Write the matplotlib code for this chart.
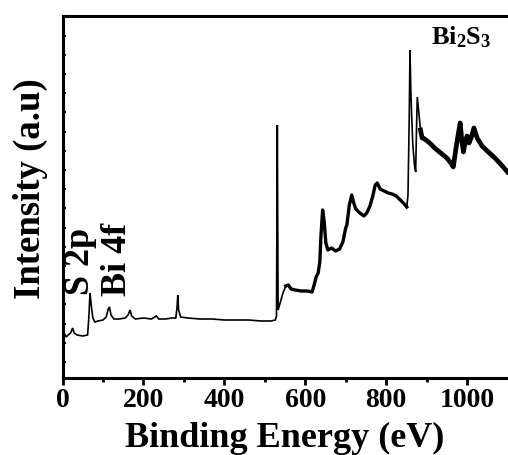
import matplotlib
matplotlib.use("Agg")
import matplotlib.pyplot as plt
import numpy as np

# Binding energy (eV) and intensity (a.u.)
energy = [0, 4, 9, 14, 20, 25, 29, 36, 50, 62, 65, 68, 71, 75, 80, 88, 100, 108, 113, 116,
          120, 127, 140, 155, 162, 167, 171, 180, 200, 220, 232, 238, 255, 270, 280, 283,
          285, 287, 292, 310, 340, 370, 400, 430, 460, 490, 515, 526, 529, 531, 533, 538,
          545, 552, 558, 565, 575, 590, 605, 617, 622, 627, 632, 636, 639, 643, 647, 651,
          656, 665, 675, 685, 693, 700, 703, 709, 715, 720, 725, 735, 745, 752, 760, 767,
          773, 778, 785, 795, 805, 815, 825, 835, 845, 851, 854, 857, 859, 861, 863, 866,
          870, 873, 875, 877, 879, 882, 885, 889, 895, 905, 920, 935, 950, 960, 966, 972,
          978, 983, 987, 991, 996, 1000, 1005, 1010, 1017, 1025, 1037, 1050, 1069, 1085, 1100]
intensity = [53, 45, 41, 43, 45, 50, 45, 43, 42, 43, 60, 85, 73, 60, 56, 57, 58, 61, 69, 71,
             63, 59, 59, 60, 63, 68, 62, 59, 60, 59, 62, 59, 59, 60, 60, 70,
             83, 68, 61, 60, 59, 59, 58, 58, 58, 57, 57, 58, 62, 253, 68, 75,
             85, 92, 93, 89, 88, 87, 87, 86, 93, 101, 105, 116, 143, 168, 156, 135,
             128, 130, 127, 129, 136, 150, 153, 173, 183, 175, 169, 165, 162, 165, 172, 182,
             193, 195, 189, 187, 185, 184, 182, 178, 174, 171, 183, 258, 328, 288, 263, 233,
             213, 206, 248, 281, 273, 260, 248, 240, 239, 236, 230, 225, 220, 215, 211, 228,
             243, 255, 238, 226, 237, 242, 235, 240, 250, 240, 232, 227, 220, 213, 206]

x_ticks = [0, 200, 400, 600, 800, 1000]
x_tick_labels = ["0", "200", "400", "600", "800", "1000"]
peak_labels = ["S 2p", "Bi 4f"]
peak_label_pos = [(44, 117), (136, 119)]
sample_name = r"$\mathbf{Bi_2S_3}$"

plt.rcParams["font.family"] = ["Liberation Serif", "DejaVu Serif"]
plt.rcParams["font.weight"] = "bold"
plt.rcParams["mathtext.fontset"] = "custom"
plt.rcParams["mathtext.rm"] = "Liberation Serif:bold"
plt.rcParams["mathtext.bf"] = "Liberation Serif:bold"
plt.rcParams["mathtext.it"] = "Liberation Serif:bold:italic"

fig = plt.figure(figsize=(5.08, 4.55), dpi=100)
ax = fig.add_axes([62.5 / 508, 1 - 378 / 455, (507.5 - 62.5) / 508, (378 - 15.7) / 455])

E = np.array(energy)
I = np.array(intensity)
ax.plot(E, I, color="black", lw=1.2, solid_joinstyle="miter")
m1 = (E >= 552) & (E <= 851)
ax.plot(E[m1], I[m1], color="black", lw=2.4)
m2 = (E >= 885) & (E <= 1100)
ax.plot(E[m2], I[m2], color="black", lw=3.4)

ax.set_xlim(0, 1100)
ax.set_ylim(0, 362.3)
ax.set_xticks(x_ticks)
ax.set_xticklabels(x_tick_labels, fontsize=20, fontweight="bold")
ax.set_xticks(np.arange(100, 1100, 200), minor=True)
ax.tick_params(axis="x", which="major", direction="out", length=5, width=2, pad=2)
ax.tick_params(axis="x", which="minor", direction="out", length=3, width=2)
ax.set_yticks(np.arange(16, 362, 19.2))
ax.set_yticklabels([])
ax.tick_params(axis="y", which="major", direction="in", length=2, width=1.5)

for s in ["left", "bottom", "top"]:
    ax.spines[s].set_linewidth(2.2)
ax.spines["right"].set_visible(False)

ax.set_xlabel("Binding Energy (eV)", fontsize=26, fontweight="bold", labelpad=0)
ax.xaxis.set_label_coords(0.5, -0.12)
ax.xaxis.label.set_va("top")
ax.set_ylabel("Intensity (a.u)", fontsize=26.5, fontweight="bold")
ax.yaxis.set_label_coords(-0.072, (378 - 189) / (378 - 15.7))
ax.yaxis.label.set_va("center")

for lab, (px, py) in zip(peak_labels, peak_label_pos):
    ax.text(px, py, lab, rotation=90, fontsize=26, fontweight="bold",
            ha="center", va="center")
ax.text(985, 334, sample_name, fontsize=19, ha="center", va="baseline")

fig.savefig("out.png", dpi=100)
